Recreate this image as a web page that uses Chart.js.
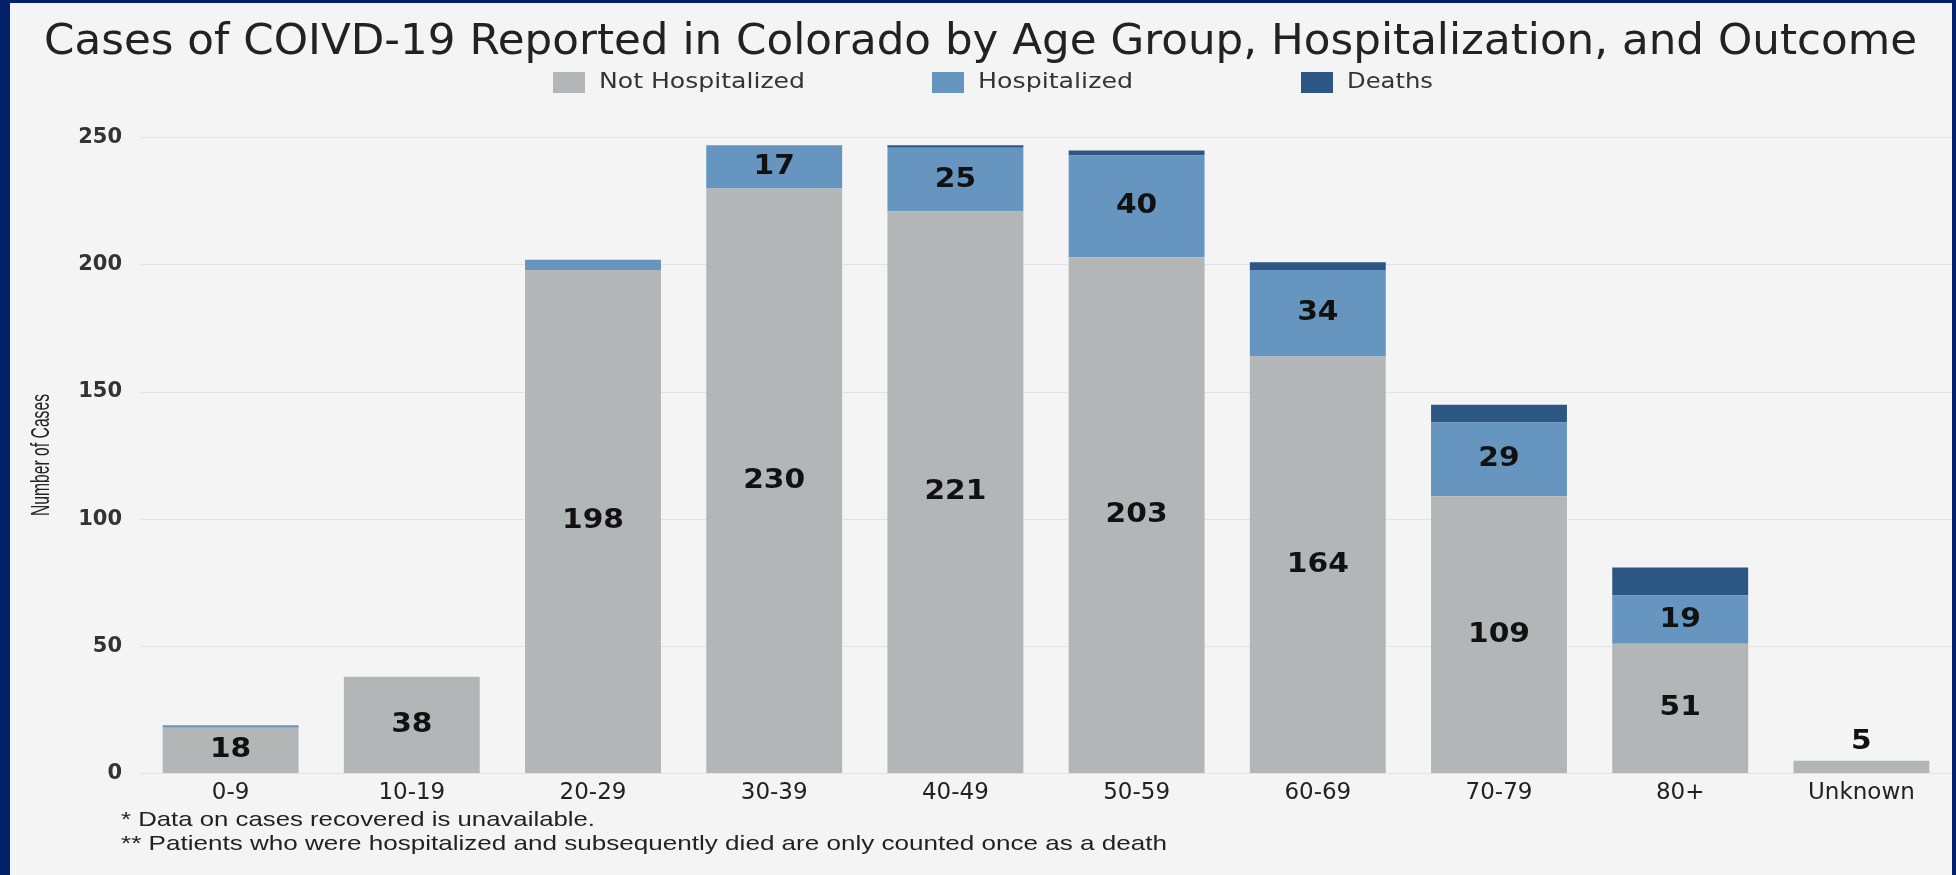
<!DOCTYPE html>
<html>
<head>
<meta charset="utf-8">
<script src="https://cdn.jsdelivr.net/npm/chart.js@4.4.1/dist/chart.umd.min.js"></script>
<style>
  html, body { margin: 0; padding: 0; background: #03206a; }
  #frame { position: absolute; left: 0; top: 0; width: 1956px; height: 875px; background: #03206a; }
  #inner { position: absolute; left: 10px; top: 3px; width: 1942px; height: 872px; background: #f4f4f4; }
  canvas { display: block; }
</style>
</head>
<body>
<div id="frame"><div id="inner"><canvas id="c" width="1942" height="872"></canvas></div></div>
<script>
// ---- data ----
const categories = ['0-9', '10-19', '20-29', '30-39', '40-49', '50-59', '60-69', '70-79', '80+', 'Unknown'];
const notHospitalized = [18, 38, 198, 230, 221, 203, 164, 109, 51, 5];
const hospitalized = [1, 0, 4, 17, 25, 40, 34, 29, 19, 0];
const deaths = [0, 0, 0, 0, 1, 2, 3, 7, 11, 0];
const seriesNames = ['Not Hospitalized', 'Hospitalized', 'Deaths'];
const yTicks = [0, 50, 100, 150, 200, 250];
const titleText = 'Cases of COIVD-19 Reported in Colorado by Age Group, Hospitalization, and Outcome';
const yAxisTitle = 'Number of Cases';
const footnotes = [
  '* Data on cases recovered is unavailable.',
  '** Patients who were hospitalized and subsequently died are only counted once as a death'
];

const colors = ['#b3b6b7', '#6695c0', '#2c5784'];

function drawFitted(ctx, text, x, y, targetW, align) {
  const w = ctx.measureText(text).width;
  const s = targetW / w;
  ctx.save();
  ctx.translate(x, y);
  ctx.scale(s, 1);
  ctx.textAlign = align;
  ctx.fillText(text, 0, 0);
  ctx.restore();
}

const decorPlugin = {
  id: 'decor',
  afterDraw(chart) {
    const ctx = chart.ctx;
    ctx.save();
    ctx.textBaseline = 'middle';
    // title
    ctx.fillStyle = '#222222';
    ctx.font = '42px "DejaVu Sans"';
    drawFitted(ctx, titleText, 970.5, 40, 1873, 'center');
    // legend
    const boxX = [543, 922, 1291];
    const textW = [206, 155, 86];
    ctx.font = '21px "DejaVu Sans"';
    chart.data.datasets.forEach((ds, i) => {
      ctx.fillStyle = ds.backgroundColor;
      ctx.fillRect(boxX[i], 69, 32, 21);
      ctx.fillStyle = '#333333';
      drawFitted(ctx, ds.label, boxX[i] + 46, 80, textW[i], 'left');
    });
    // y axis title (rotated, condensed)
    ctx.save();
    ctx.translate(32, 452);
    ctx.rotate(-Math.PI / 2);
    ctx.font = '25px "Liberation Sans"';
    ctx.fillStyle = '#222222';
    drawFitted(ctx, yAxisTitle, 0, 0, 122, 'center');
    ctx.restore();
    // footnotes
    ctx.fillStyle = '#222222';
    ctx.font = '21px "Liberation Sans"';
    drawFitted(ctx, footnotes[0], 111, 817, 474, 'left');
    drawFitted(ctx, footnotes[1], 111, 841, 1046, 'left');
    ctx.restore();
  }
};

const labelPlugin = {
  id: 'barLabels',
  afterDatasetsDraw(chart) {
    const ctx = chart.ctx;
    ctx.save();
    ctx.font = 'bold 27px "DejaVu Sans"';
    ctx.fillStyle = '#111111';
    ctx.textAlign = 'center';
    ctx.textBaseline = 'middle';
    chart.data.datasets.forEach((ds, i) => {
      if (ds.labelMode === 'none') return;
      const meta = chart.getDatasetMeta(i);
      meta.data.forEach((el, j) => {
        const v = ds.data[j];
        if (!v) return;
        const top = Math.min(el.y, el.base), bottom = Math.max(el.y, el.base);
        const h = bottom - top;
        let y = null;
        if (h >= 30) y = (top + bottom) / 2;
        else if (ds.labelMode === 'insideOrAbove') y = top - 19;
        if (y === null) return;
        ctx.save();
        ctx.translate(el.x, y);
        ctx.scale(1.1, 1);
        ctx.fillText(String(v), 0, 0);
        ctx.restore();
      });
    });
    ctx.restore();
  }
};

const datasets = [
  { label: seriesNames[0], data: notHospitalized, backgroundColor: colors[0], labelMode: 'insideOrAbove' },
  { label: seriesNames[1], data: hospitalized, backgroundColor: colors[1], labelMode: 'insideOnly' },
  { label: seriesNames[2], data: deaths, backgroundColor: colors[2], labelMode: 'none' }
].map(d => Object.assign(d, { categoryPercentage: 1.0, barPercentage: 0.75, borderWidth: 0 }));

new Chart(document.getElementById('c'), {
  type: 'bar',
  data: { labels: categories, datasets },
  options: {
    responsive: false,
    animation: false,
    devicePixelRatio: 1,
    layout: { padding: { top: 134.7, left: 0, right: 0, bottom: 0 } },
    plugins: {
      legend: { display: false },
      title: { display: false },
      tooltip: { enabled: false }
    },
    scales: {
      x: {
        stacked: true,
        grid: { display: false, drawTicks: false },
        border: { display: false },
        ticks: { color: '#222222', font: { family: 'DejaVu Sans', size: 23 }, padding: 6, maxRotation: 0, autoSkip: false },
        afterFit(scale) { scale.height = 101.5; }
      },
      y: {
        stacked: true,
        min: 0,
        max: 250,
        afterBuildTicks(scale) { scale.ticks = yTicks.map(v => ({ value: v })); },
        grid: { color: '#e3e3e3', lineWidth: 1, drawTicks: false },
        border: { display: false },
        ticks: { color: '#333333', font: { family: 'DejaVu Sans', size: 21, weight: 'bold' }, padding: 18 },
        afterFit(scale) { scale.width = 130; }
      }
    }
  },
  plugins: [labelPlugin, decorPlugin]
});
</script>
</body>
</html>
